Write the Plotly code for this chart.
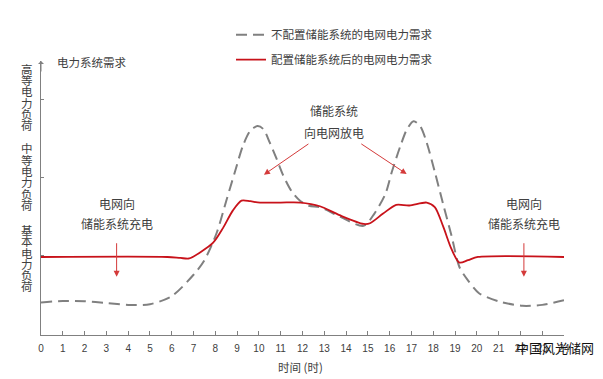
import plotly.graph_objects as go

# ---- data (y in relative load units) ----
hours_nostorage = [0, 1, 2, 3, 4, 5, 6, 7, 7.5, 8.06, 8.5, 8.9, 9.27, 9.6, 9.93, 10.2, 10.5, 10.8,
                   11.1, 11.5, 11.9, 12.3, 12.8, 13.7, 14.8, 15.3, 15.8, 16.1, 16.5, 16.8, 17.1,
                   17.4, 17.7, 18.07, 18.45, 18.84, 19.2, 19.6, 20.1, 21.06, 22.1, 23.0, 24]
load_nostorage = [33.5, 35, 34.7, 33, 31, 31.7, 40, 62, 77, 105, 138, 168, 195, 210, 215, 212, 198, 182,
                  165, 148, 138, 133, 131.5, 122, 112.3, 125, 145, 168, 195, 212, 220,
                  215, 198, 168, 135, 102, 70, 56, 43, 34.3, 30, 31, 35.7]

hours_storage = [0, 5.8, 6.4, 6.8, 7.3, 7.9, 8.35, 8.8, 9.2, 9.6, 10.05, 11, 11.9, 12.8, 13.7,
                 14.8, 15.1, 15.7, 16.3, 16.9, 17.7, 18.07, 18.45, 18.84, 19.2, 19.6, 20.05, 24]
load_storage = [80.3, 80.3, 79.3, 78.8, 85, 95, 110, 128, 138.3, 137.7, 136.3, 136.3, 136.3, 132.5, 123.3,
                114.3, 115, 125, 134, 133.3, 136.3, 131.7, 112, 88.3, 74.5, 77, 80.3, 80.3]

series_names = ["不配置储能系统的电网电力需求", "配置储能系统后的电网电力需求"]
x_ticks = list(range(0, 25))
x_tick_labels = [str(h) for h in x_ticks]
y_level_ticks = [82, 162, 242]
y_level_labels = ["基本电力负荷", "中等电力负荷", "高等电力负荷"]

CJK = "Noto Sans CJK SC, Microsoft YaHei, sans-serif"
TXT = "#404040"
RED = "#c8121a"
GRAY = "#808080"

# plot area in screen pixels (page has an 8px body offset)
PL, PT, PW, PH = 41, 53, 523, 282
OFF = 8


def px(xp):
    return (xp - PL) / PW


def py(yp):
    return (PT + PH - yp) / PH


fig = go.Figure()
fig.add_trace(go.Scatter(
    x=hours_nostorage, y=load_nostorage, mode="lines", name=series_names[0],
    line=dict(color=GRAY, width=2, dash="11px,6px", shape="spline", smoothing=0.8),
    legendgroup="a"))
fig.add_trace(go.Scatter(
    x=hours_storage, y=load_storage, mode="lines", name=series_names[1],
    line=dict(color=RED, width=1.8, shape="spline", smoothing=0.8),
    legendgroup="b"))

annotations = []

# vertical y-axis level labels (one character per annotation, stacked)
level_tops = {"高等电力负荷": 61, "中等电力负荷": 143, "基本电力负荷": 227}
for lab in y_level_labels:
    top = level_tops[lab]
    for i, ch in enumerate(lab):
        annotations.append(dict(
            text=ch, xref="paper", yref="paper", x=px(27), y=py(top + i * 11.6),
            xanchor="center", yanchor="middle", showarrow=False,
            font=dict(family=CJK, size=11.5, color=TXT)))

# y-axis title at top
annotations.append(dict(text="电力系统需求", xref="paper", yref="paper",
                        x=px(55), y=py(54), xanchor="left", yanchor="middle",
                        showarrow=False, font=dict(family=CJK, size=11.5, color=TXT)))

# y-axis arrow
annotations.append(dict(text="", xref="x", yref="paper", x=0, y=1.0, ax=0, ay=12,
                        showarrow=True, arrowhead=1, arrowsize=1.0, arrowwidth=1, arrowcolor=GRAY))

# x-axis title
annotations.append(dict(text="时间 (时)", xref="paper", yref="paper", x=px(300),
                        y=py(368), xanchor="center", yanchor="middle", showarrow=False,
                        font=dict(family=CJK, size=11.5, color=TXT)))

# middle text + arrows (discharge)
annotations.append(dict(text="储能系统", xref="x", yref="y", x=13.45, y=231, showarrow=False,
                        font=dict(family=CJK, size=12, color=TXT)))
annotations.append(dict(text="向电网放电", xref="x", yref="y", x=13.45, y=208, showarrow=False,
                        font=dict(family=CJK, size=12, color=TXT)))
annotations.append(dict(text="", xref="x", yref="y", axref="x", ayref="y",
                        x=10.23, y=165, ax=12.34, ay=197.7, showarrow=True,
                        arrowhead=2, arrowsize=1.2, arrowwidth=1, arrowcolor="#d43a3a"))
annotations.append(dict(text="", xref="x", yref="y", axref="x", ayref="y",
                        x=16.78, y=165.7, ax=14.63, ay=197.7, showarrow=True,
                        arrowhead=2, arrowsize=1.2, arrowwidth=1, arrowcolor="#d43a3a"))

# charging text + arrows
for cx in (3.47, 22.16):
    annotations.append(dict(text="电网向", xref="x", yref="y", x=cx, y=135, showarrow=False,
                            font=dict(family=CJK, size=12, color=TXT)))
    annotations.append(dict(text="储能系统充电", xref="x", yref="y", x=cx, y=115, showarrow=False,
                            font=dict(family=CJK, size=12, color=TXT)))
    annotations.append(dict(text="", xref="x", yref="y", axref="x", ayref="y",
                            x=cx, y=60, ax=cx, ay=96, showarrow=True,
                            arrowhead=2, arrowsize=1.2, arrowwidth=1, arrowcolor="#d43a3a"))

# watermark
annotations.append(dict(text="中国风光储网", xref="paper", yref="paper", x=px(596),
                        y=py(348), xanchor="right", yanchor="middle", showarrow=False,
                        font=dict(family=CJK, size=13, color="#111111")))

W, H = 603 - OFF, 379 - OFF
fig.update_layout(
    width=W, height=H,
    margin=dict(l=PL - OFF, r=W - (PL - OFF) - PW, t=PT - OFF, b=H - (PT - OFF) - PH),
    paper_bgcolor="white", plot_bgcolor="white",
    showlegend=True,
    legend=dict(x=px(231), y=py(11), xanchor="left", yanchor="top",
                traceorder="grouped", tracegroupgap=6, bgcolor="rgba(0,0,0,0)",
                font=dict(family=CJK, size=11.5, color=TXT)),
    annotations=annotations,
    xaxis=dict(range=[0, 24], tickvals=x_ticks, ticktext=x_tick_labels,
               showline=True, linecolor=GRAY, linewidth=1, ticks="inside", ticklen=4,
               tickcolor=GRAY, showgrid=False, zeroline=False, ticklabelstandoff=4,
               tickfont=dict(family="Liberation Sans, Arial, sans-serif", size=10, color=TXT),
               fixedrange=True),
    yaxis=dict(range=[0, 282], tickvals=y_level_ticks, ticktext=["", "", ""],
               showline=True, linecolor=GRAY, linewidth=1, ticks="inside", ticklen=3,
               tickcolor=GRAY, showgrid=False, zeroline=False, fixedrange=True),
)

fig.write_html("out.html")
